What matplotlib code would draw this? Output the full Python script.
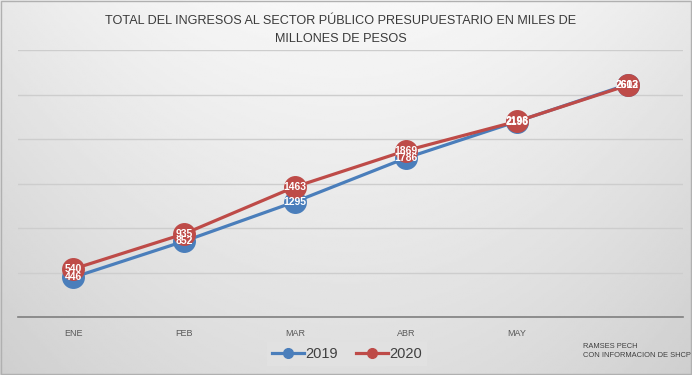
import numpy as np
import matplotlib
matplotlib.use('Agg')
import matplotlib.pyplot as plt

plt.rcParams['font.family'] = ['Liberation Sans', 'DejaVu Sans']

meses = ['ENE', 'FEB', 'MAR', 'ABR', 'MAY', '']
ingresos_2019 = [446, 852, 1295, 1786, 2196, 2612]
ingresos_2020 = [540, 935, 1463, 1869, 2198, 2603]

titulo = 'TOTAL DEL INGRESOS AL SECTOR PÚBLICO PRESUPUESTARIO EN MILES DE\nMILLONES DE PESOS'
fuente = 'RAMSES PECH\nCON INFORMACION DE SHCP'

azul = '#4a7ebb'
rojo = '#be4b48'

fig = plt.figure(figsize=(6.92, 3.75), dpi=100)

# fondo degradado
bg = fig.add_axes([0, 0, 1, 1], zorder=-10)
yy, xx = np.mgrid[0:1:200j, -1:1:300j]
grad = 0.97 - 0.10 * yy - 0.06 * xx ** 2
bg.imshow(grad, cmap='gray', vmin=0, vmax=1, aspect='auto', extent=[0, 1, 0, 1])
bg.set_xlim(0, 1)
bg.set_ylim(0, 1)
bg.axis('off')
bg.add_patch(plt.Rectangle((0.001, 0.002), 0.997, 0.995, fill=False, ec='#b0b0b0', lw=1))

ax = fig.add_axes([18 / 692, 1 - 317 / 375, 665 / 692, 267 / 375])
ax.set_facecolor('none')
x = np.arange(len(meses))

ax.plot(x[:len(ingresos_2019)], ingresos_2019, color=azul, lw=2.3, marker='o', ms=15.5, label='2019', zorder=3)
ax.plot(x[:len(ingresos_2020)], ingresos_2020, color=rojo, lw=2.3, marker='o', ms=15.5, label='2020', zorder=4)

for xi, v in zip(x, ingresos_2019):
    ax.text(xi, v, str(v), color='white', ha='center', va='center', fontsize=7.5, fontweight='bold', zorder=5)
for xi, v in zip(x, ingresos_2020):
    ax.text(xi, v, str(v), color='white', ha='center', va='center', fontsize=7.5, fontweight='bold', zorder=6)

ax.set_xlim(-0.5, 5.5)
ax.set_ylim(0, 3000)
ax.set_yticks(range(0, 3001, 500))
ax.set_yticklabels([])
ax.tick_params(axis='y', length=0)
ax.grid(axis='y', color='#cdcdcd', lw=1)
ax.set_axisbelow(True)
ax.set_xticks(x)
ax.set_xticklabels(meses, fontsize=6.5, color='#595959')
ax.tick_params(axis='x', length=0, pad=9)
for s in ['top', 'right', 'left']:
    ax.spines[s].set_visible(False)
ax.spines['bottom'].set_color('#7f7f7f')
ax.spines['bottom'].set_linewidth(1.2)

fig.text(0.492, 1 - 30 / 375, titulo, ha='center', va='center', fontsize=9.1, color='#3a3a3a', linespacing=1.75)
fig.text(583 / 692, 1 - 351 / 375, fuente, ha='left', va='center', fontsize=5.4, color='#404040', linespacing=1.25)

leg = fig.legend(loc='center', bbox_to_anchor=(347 / 692, 1 - 354 / 375), ncol=2, frameon=True,
                 fontsize=10.5, handlelength=2.2, handletextpad=0.1, columnspacing=1.2,
                 markerscale=0.45, borderpad=0.35, fancybox=False)
leg.get_frame().set_facecolor('#e2e2e2')
leg.get_frame().set_edgecolor('none')
for t in leg.get_texts():
    t.set_color('#404040')

fig.savefig('out.png', dpi=100)
